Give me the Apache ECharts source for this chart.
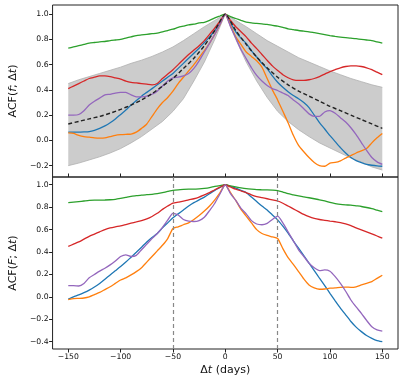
<!DOCTYPE html>
<html>
<head>
  <meta charset="utf-8">
  <title>ACF</title>
  <script src="https://cdn.jsdelivr.net/npm/echarts@6/dist/echarts.min.js"></script>
  <style>
    html, body { margin: 0; padding: 0; background: #fff; }
    #chart { width: 403px; height: 382px; }
  </style>
</head>
<body>
  <div id="chart"></div>
  <script>
    // lags in days
    var days = [-150, -145, -140, -135, -130, -125, -120, -115, -110, -105, -100, -95, -90, -85, -80, -75, -70, -65, -60, -55, -50, -45, -40, -35, -30, -25, -20, -15, -10, -5, 0,
      5, 10, 15, 20, 25, 30, 35, 40, 45, 50, 55, 60, 65, 70, 75, 80, 85, 90, 95, 100, 105, 110, 115, 120, 125, 130, 135, 140, 145, 150];
    var bandDays = [-150, -140, -130, -120, -110, -100, -90, -80, -70, -60, -50, -40, -30, -20, -10, 0,
      10, 20, 30, 40, 50, 60, 70, 80, 90, 100, 110, 120, 130, 140, 150];
    var tickDays = [-150, -100, -50, 0, 50, 100, 150];
    var topTicks = [-0.2, 0, 0.2, 0.4, 0.6, 0.8, 1.0];
    var botTicks = [-0.4, -0.2, 0, 0.2, 0.4, 0.6, 0.8, 1.0];
    var markDays = [-50, 50];

    // top panel: ACF(f; dt)
    var topBlue = [0.065, 0.065, 0.065, 0.067, 0.07, 0.08, 0.095, 0.115, 0.14, 0.17, 0.205, 0.24, 0.28, 0.315, 0.35, 0.38, 0.41, 0.44, 0.47, 0.50, 0.53, 0.57, 0.61, 0.65, 0.69, 0.73, 0.775, 0.82, 0.87, 0.93, 1.0,
      0.93, 0.86, 0.81, 0.767, 0.71, 0.66, 0.61, 0.568, 0.51, 0.46, 0.42, 0.385, 0.355, 0.33, 0.30, 0.26, 0.20, 0.14, 0.09, 0.037, -0.01, -0.057, -0.10, -0.136, -0.16, -0.176, -0.19, -0.197, -0.202, -0.205];
    var topOrange = [0.06, 0.055, 0.04, 0.03, 0.025, 0.02, 0.018, 0.02, 0.03, 0.04, 0.045, 0.048, 0.05, 0.065, 0.095, 0.13, 0.19, 0.25, 0.30, 0.34, 0.39, 0.45, 0.50, 0.55, 0.60, 0.655, 0.71, 0.77, 0.84, 0.92, 1.0,
      0.91, 0.82, 0.76, 0.70, 0.665, 0.63, 0.58, 0.49, 0.40, 0.32, 0.23, 0.14, 0.04, -0.04, -0.09, -0.136, -0.175, -0.20, -0.205, -0.18, -0.175, -0.162, -0.14, -0.12, -0.10, -0.083, -0.065, -0.02, 0.02, 0.055];
    var topGreen = [0.73, 0.74, 0.75, 0.76, 0.77, 0.775, 0.78, 0.783, 0.79, 0.795, 0.80, 0.81, 0.82, 0.83, 0.835, 0.84, 0.845, 0.85, 0.86, 0.87, 0.88, 0.895, 0.905, 0.915, 0.92, 0.93, 0.935, 0.95, 0.97, 0.985, 1.0,
      0.98, 0.965, 0.95, 0.936, 0.93, 0.926, 0.922, 0.918, 0.91, 0.905, 0.895, 0.883, 0.877, 0.87, 0.865, 0.86, 0.853, 0.846, 0.838, 0.83, 0.823, 0.817, 0.813, 0.81, 0.805, 0.80, 0.795, 0.79, 0.78, 0.77];
    var topRed = [0.41, 0.43, 0.45, 0.47, 0.49, 0.50, 0.51, 0.51, 0.505, 0.495, 0.485, 0.47, 0.46, 0.455, 0.45, 0.445, 0.44, 0.45, 0.49, 0.525, 0.56, 0.60, 0.64, 0.68, 0.715, 0.75, 0.79, 0.84, 0.89, 0.945, 1.0,
      0.95, 0.90, 0.86, 0.82, 0.77, 0.727, 0.68, 0.634, 0.59, 0.554, 0.52, 0.496, 0.48, 0.475, 0.475, 0.48, 0.49, 0.505, 0.525, 0.545, 0.56, 0.575, 0.585, 0.59, 0.59, 0.585, 0.575, 0.56, 0.54, 0.52];
    var topPurple = [0.20, 0.20, 0.205, 0.235, 0.28, 0.31, 0.335, 0.36, 0.365, 0.375, 0.38, 0.38, 0.36, 0.345, 0.345, 0.35, 0.365, 0.39, 0.43, 0.47, 0.495, 0.50, 0.51, 0.53, 0.57, 0.63, 0.70, 0.77, 0.84, 0.92, 1.0,
      0.90, 0.81, 0.72, 0.647, 0.575, 0.514, 0.47, 0.435, 0.41, 0.395, 0.375, 0.355, 0.32, 0.29, 0.25, 0.21, 0.19, 0.19, 0.225, 0.236, 0.215, 0.18, 0.145, 0.10, 0.045, -0.017, -0.08, -0.136, -0.17, -0.19];
    var topMean = [0.13, 0.15, 0.17, 0.19, 0.215, 0.245, 0.28, 0.32, 0.37, 0.43, 0.49, 0.57, 0.65, 0.75, 0.87, 1.0,
      0.87, 0.76, 0.66, 0.575, 0.50, 0.44, 0.39, 0.35, 0.31, 0.27, 0.235, 0.20, 0.165, 0.13, 0.095];
    var bandUpper = [0.45, 0.48, 0.505, 0.53, 0.555, 0.58, 0.61, 0.635, 0.665, 0.70, 0.74, 0.79, 0.845, 0.90, 0.95, 1.0,
      0.95, 0.90, 0.845, 0.79, 0.745, 0.70, 0.655, 0.62, 0.585, 0.55, 0.52, 0.49, 0.465, 0.44, 0.42];
    var bandLower = [-0.20, -0.18, -0.155, -0.13, -0.10, -0.065, -0.02, 0.03, 0.09, 0.15, 0.23, 0.33, 0.47, 0.62, 0.80, 1.0,
      0.80, 0.62, 0.47, 0.34, 0.23, 0.15, 0.085, 0.03, -0.02, -0.06, -0.10, -0.14, -0.17, -0.21, -0.235];

    // bottom panel: ACF(F; dt)
    var botBlue = [-0.02, 0.0, 0.017, 0.037, 0.06, 0.088, 0.12, 0.157, 0.196, 0.233, 0.27, 0.31, 0.354, 0.398, 0.443, 0.49, 0.53, 0.565, 0.615, 0.66, 0.705, 0.74, 0.775, 0.81, 0.84, 0.865, 0.89, 0.92, 0.95, 0.975, 1.0,
      0.985, 0.97, 0.95, 0.93, 0.89, 0.85, 0.81, 0.775, 0.73, 0.687, 0.63, 0.568, 0.50, 0.434, 0.367, 0.30, 0.233, 0.166, 0.10, 0.032, -0.035, -0.10, -0.16, -0.22, -0.27, -0.31, -0.345, -0.37, -0.39, -0.40];
    var botOrange = [-0.025, -0.015, -0.013, -0.01, 0.0, 0.02, 0.04, 0.065, 0.09, 0.12, 0.15, 0.17, 0.196, 0.225, 0.26, 0.31, 0.36, 0.41, 0.46, 0.52, 0.61, 0.625, 0.643, 0.66, 0.69, 0.725, 0.765, 0.81, 0.865, 0.93, 1.0,
      0.93, 0.86, 0.78, 0.72, 0.66, 0.60, 0.565, 0.548, 0.535, 0.52, 0.43, 0.35, 0.29, 0.226, 0.16, 0.106, 0.08, 0.068, 0.07, 0.077, 0.08, 0.085, 0.087, 0.085, 0.09, 0.106, 0.12, 0.136, 0.165, 0.193];
    var botGreen = [0.84, 0.845, 0.85, 0.855, 0.86, 0.862, 0.863, 0.864, 0.866, 0.87, 0.878, 0.887, 0.896, 0.902, 0.908, 0.911, 0.914, 0.92, 0.93, 0.94, 0.95, 0.955, 0.958, 0.96, 0.96, 0.963, 0.968, 0.975, 0.985, 0.993, 1.0,
      0.99, 0.98, 0.972, 0.965, 0.96, 0.956, 0.955, 0.954, 0.952, 0.948, 0.935, 0.92, 0.91, 0.90, 0.892, 0.884, 0.875, 0.866, 0.855, 0.842, 0.832, 0.824, 0.82, 0.818, 0.812, 0.806, 0.797, 0.786, 0.773, 0.76];
    var botRed = [0.45, 0.47, 0.49, 0.515, 0.54, 0.56, 0.58, 0.60, 0.615, 0.625, 0.633, 0.645, 0.657, 0.668, 0.68, 0.695, 0.717, 0.745, 0.78, 0.81, 0.836, 0.845, 0.853, 0.865, 0.875, 0.89, 0.91, 0.93, 0.955, 0.978, 1.0,
      0.98, 0.96, 0.945, 0.93, 0.91, 0.895, 0.885, 0.875, 0.865, 0.855, 0.835, 0.81, 0.785, 0.76, 0.735, 0.715, 0.70, 0.69, 0.683, 0.676, 0.67, 0.663, 0.65, 0.635, 0.615, 0.598, 0.58, 0.562, 0.543, 0.523];
    var botPurple = [0.10, 0.10, 0.097, 0.12, 0.17, 0.20, 0.23, 0.255, 0.285, 0.32, 0.36, 0.375, 0.36, 0.37, 0.42, 0.47, 0.52, 0.565, 0.62, 0.685, 0.745, 0.73, 0.69, 0.675, 0.672, 0.68, 0.71, 0.77, 0.835, 0.92, 1.0,
      0.92, 0.86, 0.79, 0.74, 0.68, 0.65, 0.643, 0.655, 0.69, 0.72, 0.66, 0.58, 0.50, 0.42, 0.36, 0.30, 0.26, 0.234, 0.24, 0.228, 0.18, 0.12, 0.05, -0.028, -0.09, -0.147, -0.21, -0.266, -0.295, -0.305];

    var colors = ['#1f77b4', '#ff7f0e', '#2ca02c', '#d62728', '#9467bd'];
    var font = 'DejaVu Sans';

    function pairs(xs, ys) {
      return xs.map(function (x, i) { return [x, ys[i]]; });
    }

    function fmt(v) {
      var s = Math.abs(v) < 1e-9 ? '0' : String(Math.abs(v));
      return (v < -1e-9 ? '\u2212' : '') + s;
    }

    function fmtY(v) {
      return (v < -1e-9 ? '\u2212' : '') + Math.abs(v).toFixed(1);
    }

    function line(data, color, idx, z) {
      return {
        type: 'line',
        xAxisIndex: idx,
        yAxisIndex: idx,
        data: data,
        showSymbol: false,
        symbol: 'none',
        smooth: 0.2,
        z: z,
        lineStyle: { color: color, width: 1.3 }
      };
    }

    var rich = {
      r: { fontFamily: font, fontSize: 11, color: '#111' },
      i: { fontFamily: font, fontSize: 11, color: '#111', fontStyle: 'italic' }
    };

    var myChart = echarts.init(document.getElementById('chart'), null, { renderer: 'canvas' });

    // shaded band, drawn as one polygon through the axis scales
    var bandSeries = {
      type: 'custom',
      xAxisIndex: 0,
      yAxisIndex: 0,
      z: 1,
      data: bandDays.map(function (d, i) { return [d, bandLower[i], bandUpper[i]]; }),
      encode: { x: 0, y: [1, 2] },
      renderItem: function (params, api) {
        if (params.dataIndex !== 0) return null;
        var pts = [];
        for (var i = 0; i < bandDays.length; i++) {
          pts.push(api.coord([bandDays[i], bandUpper[i]]));
        }
        for (var j = bandDays.length - 1; j >= 0; j--) {
          pts.push(api.coord([bandDays[j], bandLower[j]]));
        }
        return {
          type: 'polygon',
          shape: { points: pts },
          style: { fill: '#cccccc', stroke: null }
        };
      }
    };

    var edgeUpper = line(pairs(bandDays, bandUpper), '#b0b0b0', 0, 2);
    var edgeLower = line(pairs(bandDays, bandLower), '#b0b0b0', 0, 2);
    edgeUpper.smooth = false;
    edgeLower.smooth = false;
    edgeUpper.lineStyle.width = 0.8;
    edgeLower.lineStyle.width = 0.8;

    var botBlueSeries = line(pairs(days, botBlue), colors[0], 1, 3);
    // vertical dashed guides at +-50 days
    botBlueSeries.markLine = {
      silent: true,
      symbol: 'none',
      label: { show: false },
      lineStyle: { color: '#888', type: [4, 3], width: 1.2 },
      data: markDays.map(function (d) { return { xAxis: d }; })
    };

    var series = [
      bandSeries,
      edgeUpper,
      edgeLower,
      line(pairs(days, topBlue), colors[0], 0, 3),
      line(pairs(days, topOrange), colors[1], 0, 3),
      line(pairs(days, topGreen), colors[2], 0, 3),
      line(pairs(days, topRed), colors[3], 0, 3),
      line(pairs(days, topPurple), colors[4], 0, 3),
      {
        type: 'line', xAxisIndex: 0, yAxisIndex: 0, data: pairs(bandDays, topMean),
        symbol: 'none', smooth: 0.2, z: 4,
        lineStyle: { color: '#222', width: 1.4, type: [4, 2.5] }
      },
      botBlueSeries,
      line(pairs(days, botOrange), colors[1], 1, 3),
      line(pairs(days, botGreen), colors[2], 1, 3),
      line(pairs(days, botRed), colors[3], 1, 3),
      line(pairs(days, botPurple), colors[4], 1, 3)
    ];

    var tickStyle = { color: '#222' };

    var option = {
      animation: false,
      backgroundColor: '#fff',
      grid: [
        { left: 45, top: 5, width: 353, height: 172, show: true, borderColor: '#222', borderWidth: 1 },
        { left: 45, top: 177, width: 353, height: 172, show: true, borderColor: '#222', borderWidth: 1 }
      ],
      xAxis: [
        {
          type: 'value', gridIndex: 0, min: -165, max: 165,
          axisLine: { show: false, onZero: false },
          splitLine: { show: false },
          axisTick: { show: true, inside: true, length: 3.5, customValues: tickDays, lineStyle: tickStyle },
          axisLabel: { show: false }
        },
        {
          type: 'value', gridIndex: 1, min: -165, max: 165,
          axisLine: { show: false, onZero: false },
          splitLine: { show: false },
          axisTick: { show: true, length: 3.5, customValues: tickDays, lineStyle: tickStyle },
          axisLabel: { customValues: tickDays, formatter: fmt, fontFamily: font, fontSize: 7.7, color: '#111', margin: 4 },
          name: '{r|\u0394}{i|t}{r| (days)}',
          nameLocation: 'middle',
          nameGap: 16,
          nameTextStyle: { rich: rich, fontFamily: font, fontSize: 11 }
        }
      ],
      yAxis: [
        {
          type: 'value', gridIndex: 0, min: -0.29, max: 1.072,
          axisLine: { show: false, onZero: false },
          splitLine: { show: false },
          axisTick: { show: true, length: 3.5, customValues: topTicks, lineStyle: tickStyle },
          axisLabel: { customValues: topTicks, formatter: fmtY, fontFamily: font, fontSize: 7.7, color: '#111', margin: 4 },
          name: '{r|ACF(}{i|f}{r|; \u0394}{i|t}{r|)}',
          nameLocation: 'middle',
          nameRotate: 90,
          nameGap: 28,
          nameTextStyle: { rich: rich, fontFamily: font, fontSize: 11 }
        },
        {
          type: 'value', gridIndex: 1, min: -0.465, max: 1.069,
          axisLine: { show: false, onZero: false },
          splitLine: { show: false },
          axisTick: { show: true, length: 3.5, customValues: botTicks, lineStyle: tickStyle },
          axisLabel: { customValues: botTicks, formatter: fmtY, fontFamily: font, fontSize: 7.7, color: '#111', margin: 4 },
          name: '{r|ACF(}{i|F}{r|; \u0394}{i|t}{r|)}',
          nameLocation: 'middle',
          nameRotate: 90,
          nameGap: 28,
          nameTextStyle: { rich: rich, fontFamily: font, fontSize: 11 }
        }
      ],
      series: series
    };

    myChart.setOption(option);
  </script>
</body>
</html>
